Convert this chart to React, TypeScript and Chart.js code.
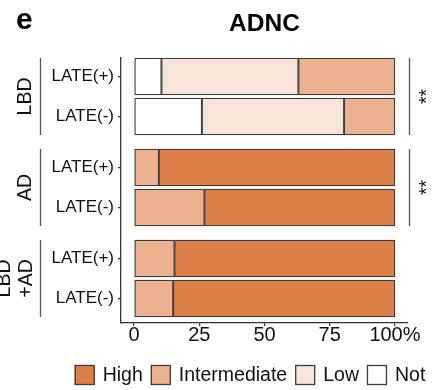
import React, { useEffect, useRef } from 'react';
import { Chart, registerables } from 'chart.js';

Chart.register(...registerables);

// ---------- data ----------
const rowLabels = ['LATE(+)', 'LATE(-)', 'LATE(+)', 'LATE(-)', 'LATE(+)', 'LATE(-)'];
const rowGroup = [0, 0, 1, 1, 2, 2];
const groupLabels = [['LBD'], ['AD'], ['LBD', '+AD']];
const significance = ['**', '**', ''];

const notValues = [10.5, 26, 0, 0, 0, 0];
const lowValues = [52.5, 54.5, 0, 0, 0, 0];
const intermediateValues = [37, 19.5, 9.5, 27, 15.5, 15];
const highValues = [0, 0, 90.5, 73, 84.5, 85];

const xTickValues = [0, 25, 50, 75, 100];
const xTickLabels = ['0', '25', '50', '75', '100%'];

const legendLabels = ['High', 'Intermediate', 'Low', 'Not'];

// ---------- styles ----------
const FONT = '"Liberation Sans", Arial, Helvetica, sans-serif';
const COLORS = {
  High: '#DE7F48',
  Intermediate: '#ECB18F',
  Low: '#F8E5DA',
  Not: '#FFFFFF',
};
const BORDER = '#3c3c3c';
const GROUP_EXTRA = 0.275; // extra spacing between facets in category units
const BAR_PX = 37;

const rowPos = rowLabels.map((_, i) => i + rowGroup[i] * GROUP_EXTRA);

function series(values: number[]) {
  return values.map((v, i) => ({ x: v === 0 ? null : v, y: rowPos[i] }));
}

const decorPlugin = {
  id: 'decor',
  afterDraw(chart: any) {
    const { ctx } = chart;
    const yScale = chart.scales.y;
    ctx.save();

    // panel letter
    ctx.fillStyle = '#000';
    ctx.font = `bold 30px ${FONT}`;
    ctx.textAlign = 'left';
    ctx.textBaseline = 'alphabetic';
    ctx.fillText('e', 16, 29);

    // group brackets + labels, significance
    groupLabels.forEach((lines, g) => {
      const idx = rowGroup.map((gg, i) => (gg === g ? i : -1)).filter((i) => i >= 0);
      const yTop = yScale.getPixelForValue(rowPos[idx[0]]) - BAR_PX / 2;
      const yBot = yScale.getPixelForValue(rowPos[idx[idx.length - 1]]) + BAR_PX / 2;
      const yMid = (yTop + yBot) / 2;

      ctx.strokeStyle = '#555';
      ctx.lineWidth = 1.3;
      ctx.beginPath();
      ctx.moveTo(40.5, yTop);
      ctx.lineTo(40.5, yBot);
      ctx.stroke();

      ctx.fillStyle = '#111';
      ctx.font = `19.5px ${FONT}`;
      ctx.textAlign = 'center';
      ctx.textBaseline = 'middle';
      const n = lines.length;
      lines.forEach((line, k) => {
        const x = n === 1 ? 26 : 5 + k * 22;
        ctx.save();
        ctx.translate(x, yMid);
        ctx.rotate(-Math.PI / 2);
        ctx.fillText(line, 0, 0);
        ctx.restore();
      });

      if (significance[g]) {
        ctx.strokeStyle = '#555';
        ctx.beginPath();
        ctx.moveTo(409.5, yTop);
        ctx.lineTo(409.5, yBot);
        ctx.stroke();
        ctx.save();
        ctx.translate(424, yMid);
        ctx.rotate(-Math.PI / 2);
        ctx.font = `19.5px ${FONT}`;
        ctx.fillStyle = '#111';
        ctx.textAlign = 'center';
        ctx.textBaseline = 'middle';
        ctx.fillText(significance[g], 0, 4);
        ctx.restore();
      }
    });

    // legend
    ctx.font = `19.5px ${FONT}`;
    const box = 20;
    const gapText = 8;
    const gapItem = 8;
    const widths = legendLabels.map((l) => box + gapText + ctx.measureText(l).width);
    const total = widths.reduce((a, b) => a + b, 0) + gapItem * (legendLabels.length - 1);
    let x = 250 - total / 2;
    const top = 365;
    legendLabels.forEach((l, i) => {
      ctx.fillStyle = (COLORS as any)[l];
      ctx.fillRect(x, top, box, box);
      ctx.strokeStyle = BORDER;
      ctx.lineWidth = 1.3;
      ctx.strokeRect(x + 0.5, top + 0.5, box - 1, box - 1);
      ctx.fillStyle = '#111';
      ctx.textAlign = 'left';
      ctx.textBaseline = 'middle';
      ctx.fillText(l, x + box + gapText, top + box / 2 + 1);
      x += widths[i] + gapItem;
    });

    ctx.restore();
  },
};

export default function App() {
  const ref = useRef<HTMLCanvasElement | null>(null);

  useEffect(() => {
    if (!ref.current) return;
    const mk = (label: string, values: number[]) => ({
      label,
      data: series(values),
      backgroundColor: (COLORS as any)[label],
      borderColor: BORDER,
      borderWidth: 1.3,
      borderSkipped: false,
      barThickness: BAR_PX,
    });
    const chart = new Chart(ref.current, {
      type: 'bar',
      data: {
        datasets: [
          mk('Not', notValues),
          mk('Low', lowValues),
          mk('Intermediate', intermediateValues),
          mk('High', highValues),
        ] as any,
      },
      options: {
        indexAxis: 'y',
        animation: false,
        responsive: false,
        maintainAspectRatio: false,
        layout: { padding: { left: 0, right: 36, top: 0, bottom: 37 } },
        plugins: {
          legend: { display: false },
          tooltip: { enabled: false },
          title: {
            display: true,
            text: 'ADNC',
            fullSize: false,
            color: '#000',
            font: { family: FONT, size: 24.5, weight: 'bold' },
            padding: { top: 10, bottom: 18.6 },
          },
        },
        scales: {
          x: {
            type: 'linear',
            stacked: true,
            min: -5,
            max: 105,
            afterBuildTicks: (scale: any) => {
              scale.ticks = xTickValues.map((v) => ({ value: v }));
            },
            afterFit: (scale: any) => {
              scale.height = 30;
            },
            ticks: {
              autoSkip: false,
              maxRotation: 0,
              padding: -1,
              color: '#111',
              font: { family: FONT, size: 20, lineHeight: 1 },
              callback: (_v: any, i: number) => xTickLabels[i],
            },
            grid: { drawOnChartArea: false, drawTicks: true, tickLength: 3, color: '#333', lineWidth: 1.2 },
            border: { display: true, color: '#333', width: 1.3 },
          },
          y: {
            type: 'linear',
            stacked: true,
            reverse: true,
            offset: false,
            min: -0.4625,
            max: 6.1625,
            afterBuildTicks: (scale: any) => {
              scale.ticks = rowPos.map((v) => ({ value: v }));
            },
            afterFit: (scale: any) => {
              scale.width = 121;
            },
            ticks: {
              autoSkip: false,
              padding: 4,
              color: '#111',
              font: { family: FONT, size: 17 },
              callback: (_v: any, i: number) => rowLabels[i],
            },
            grid: { offset: false, drawOnChartArea: false, drawTicks: true, tickLength: 3, color: '#333', lineWidth: 1.2 },
            border: { display: true, color: '#333', width: 1.3 },
          },
        },
      },
      plugins: [decorPlugin],
    });
    return () => chart.destroy();
  }, []);

  return (
    <div style={{ position: 'fixed', left: 0, top: 0, width: 444, height: 390, background: '#fff' }}>
      <canvas ref={ref} width={444} height={390} style={{ display: 'block', width: 444, height: 390 }} />
    </div>
  );
}
